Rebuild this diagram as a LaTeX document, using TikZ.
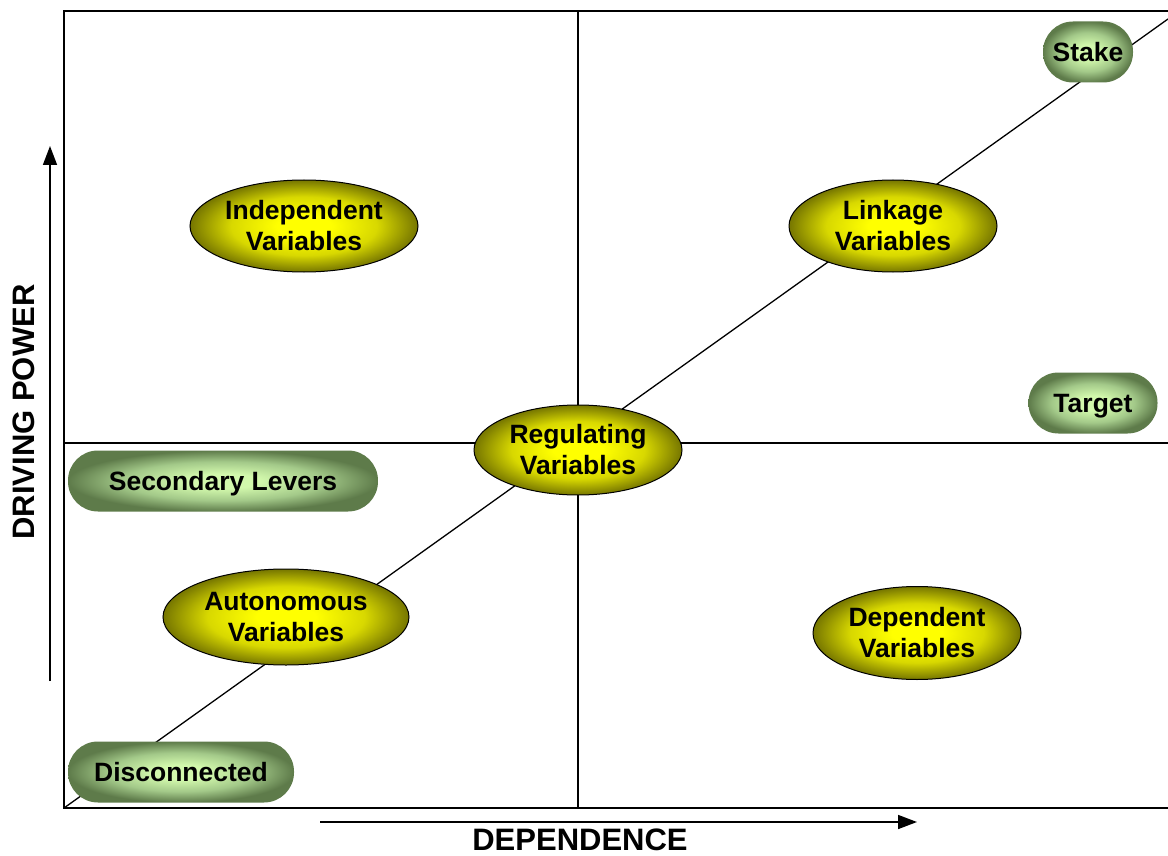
\documentclass[tikz,border=0pt]{standalone}
\usepackage{fontspec}
\setmainfont{Liberation Sans}
\usetikzlibrary{arrows.meta,shapes.geometric}
\definecolor{ycen}{HTML}{FFFF00}
\definecolor{ymid}{HTML}{D8D800}
\definecolor{yedge}{HTML}{767600}
\definecolor{gcen}{HTML}{D2F8AC}
\definecolor{gmid}{HTML}{A3C989}
\definecolor{gedge}{HTML}{5E7B4A}
% radial fills: bright core, darker rim
\pgfdeclareradialshading{yellowball}{\pgfpoint{0bp}{0bp}}{color(0bp)=(ycen); color(6bp)=(ycen); color(16bp)=(ymid); color(25bp)=(yedge); color(50bp)=(yedge)}
\pgfdeclareradialshading{greenpill}{\pgfpoint{0bp}{0bp}}{color(0bp)=(gcen); color(6bp)=(gcen); color(16bp)=(gmid); color(25bp)=(gedge); color(50bp)=(gedge)}
\begin{document}
\begin{tikzpicture}[x=1pt,y=-1pt,
  lbl/.style={font=\fontsize{26.5}{31}\selectfont\bfseries, align=center, text=black},
  varell/.style={lbl, ellipse, draw, line width=1pt, shading=yellowball, inner sep=0pt},
  lever/.style={lbl, rectangle, rounded corners=30pt, shading=greenpill, inner sep=0pt,
    minimum height=61pt, text height=19pt, text depth=0pt},
  frameline/.style={line width=1.8pt},
  gridline/.style={line width=1.3pt},
  diagline/.style={line width=1.3pt},
  axis/.style={line width=1.6pt, -{Triangle[length=19pt,width=14pt]}},
  axislbl/.style={font=\fontsize{31}{36}\selectfont\bfseries, text=black}
]
\useasboundingbox (0,0) rectangle (1168,856);

% quadrant frame (open on the right)
\coordinate (tl) at (64,11);
\coordinate (tr) at (1168,11);
\coordinate (bl) at (64,808);
\coordinate (br) at (1168,808);
\coordinate (ml) at (64,443);
\coordinate (mr) at (1168,443);
\coordinate (mt) at (578,11);
\coordinate (mb) at (578,808);
\coordinate (dend) at (1168,19);

\draw[frameline] (tr) -- (tl) -- (bl) -- (br);
\draw[gridline] (ml) -- (mr);
\draw[gridline] (mt) -- (mb);
\draw[diagline] (bl) -- (dend);

% variable classes
\node[varell, minimum width=228pt, minimum height=92pt] (indep) at (304,226) {Independent\\Variables};
\node[varell, minimum width=208pt, minimum height=92pt] (link) at (893,226) {Linkage\\Variables};
\node[varell, minimum width=208pt, minimum height=90pt] (reg) at (578,450) {Regulating\\Variables};
\node[varell, minimum width=246pt, minimum height=96pt] (auto) at (286,617) {Autonomous\\Variables};
\node[varell, minimum width=208pt, minimum height=93pt] (dep) at (917,633) {Dependent\\Variables};

% secondary groups
\node[lever, minimum width=90pt] (stake) at (1088,52) {Stake};
\node[lever, minimum width=129pt] (target) at (1093,403) {Target};
\node[lever, minimum width=310pt] (sec) at (223,481) {Secondary Levers};
\node[lever, minimum width=226pt] (disc) at (181,772) {Disconnected};

% axes
\coordinate (vs) at (50,681);
\coordinate (ve) at (50,146);
\coordinate (hs) at (320,822);
\coordinate (he) at (917,822);
\draw[axis] (vs) -- (ve);
\draw[axis] (hs) -- (he);
\node[axislbl, rotate=90] (dpow) at (24,412) {DRIVING POWER};
\node[axislbl] (depl) at (580,840) {DEPENDENCE};
\end{tikzpicture}
\end{document}
